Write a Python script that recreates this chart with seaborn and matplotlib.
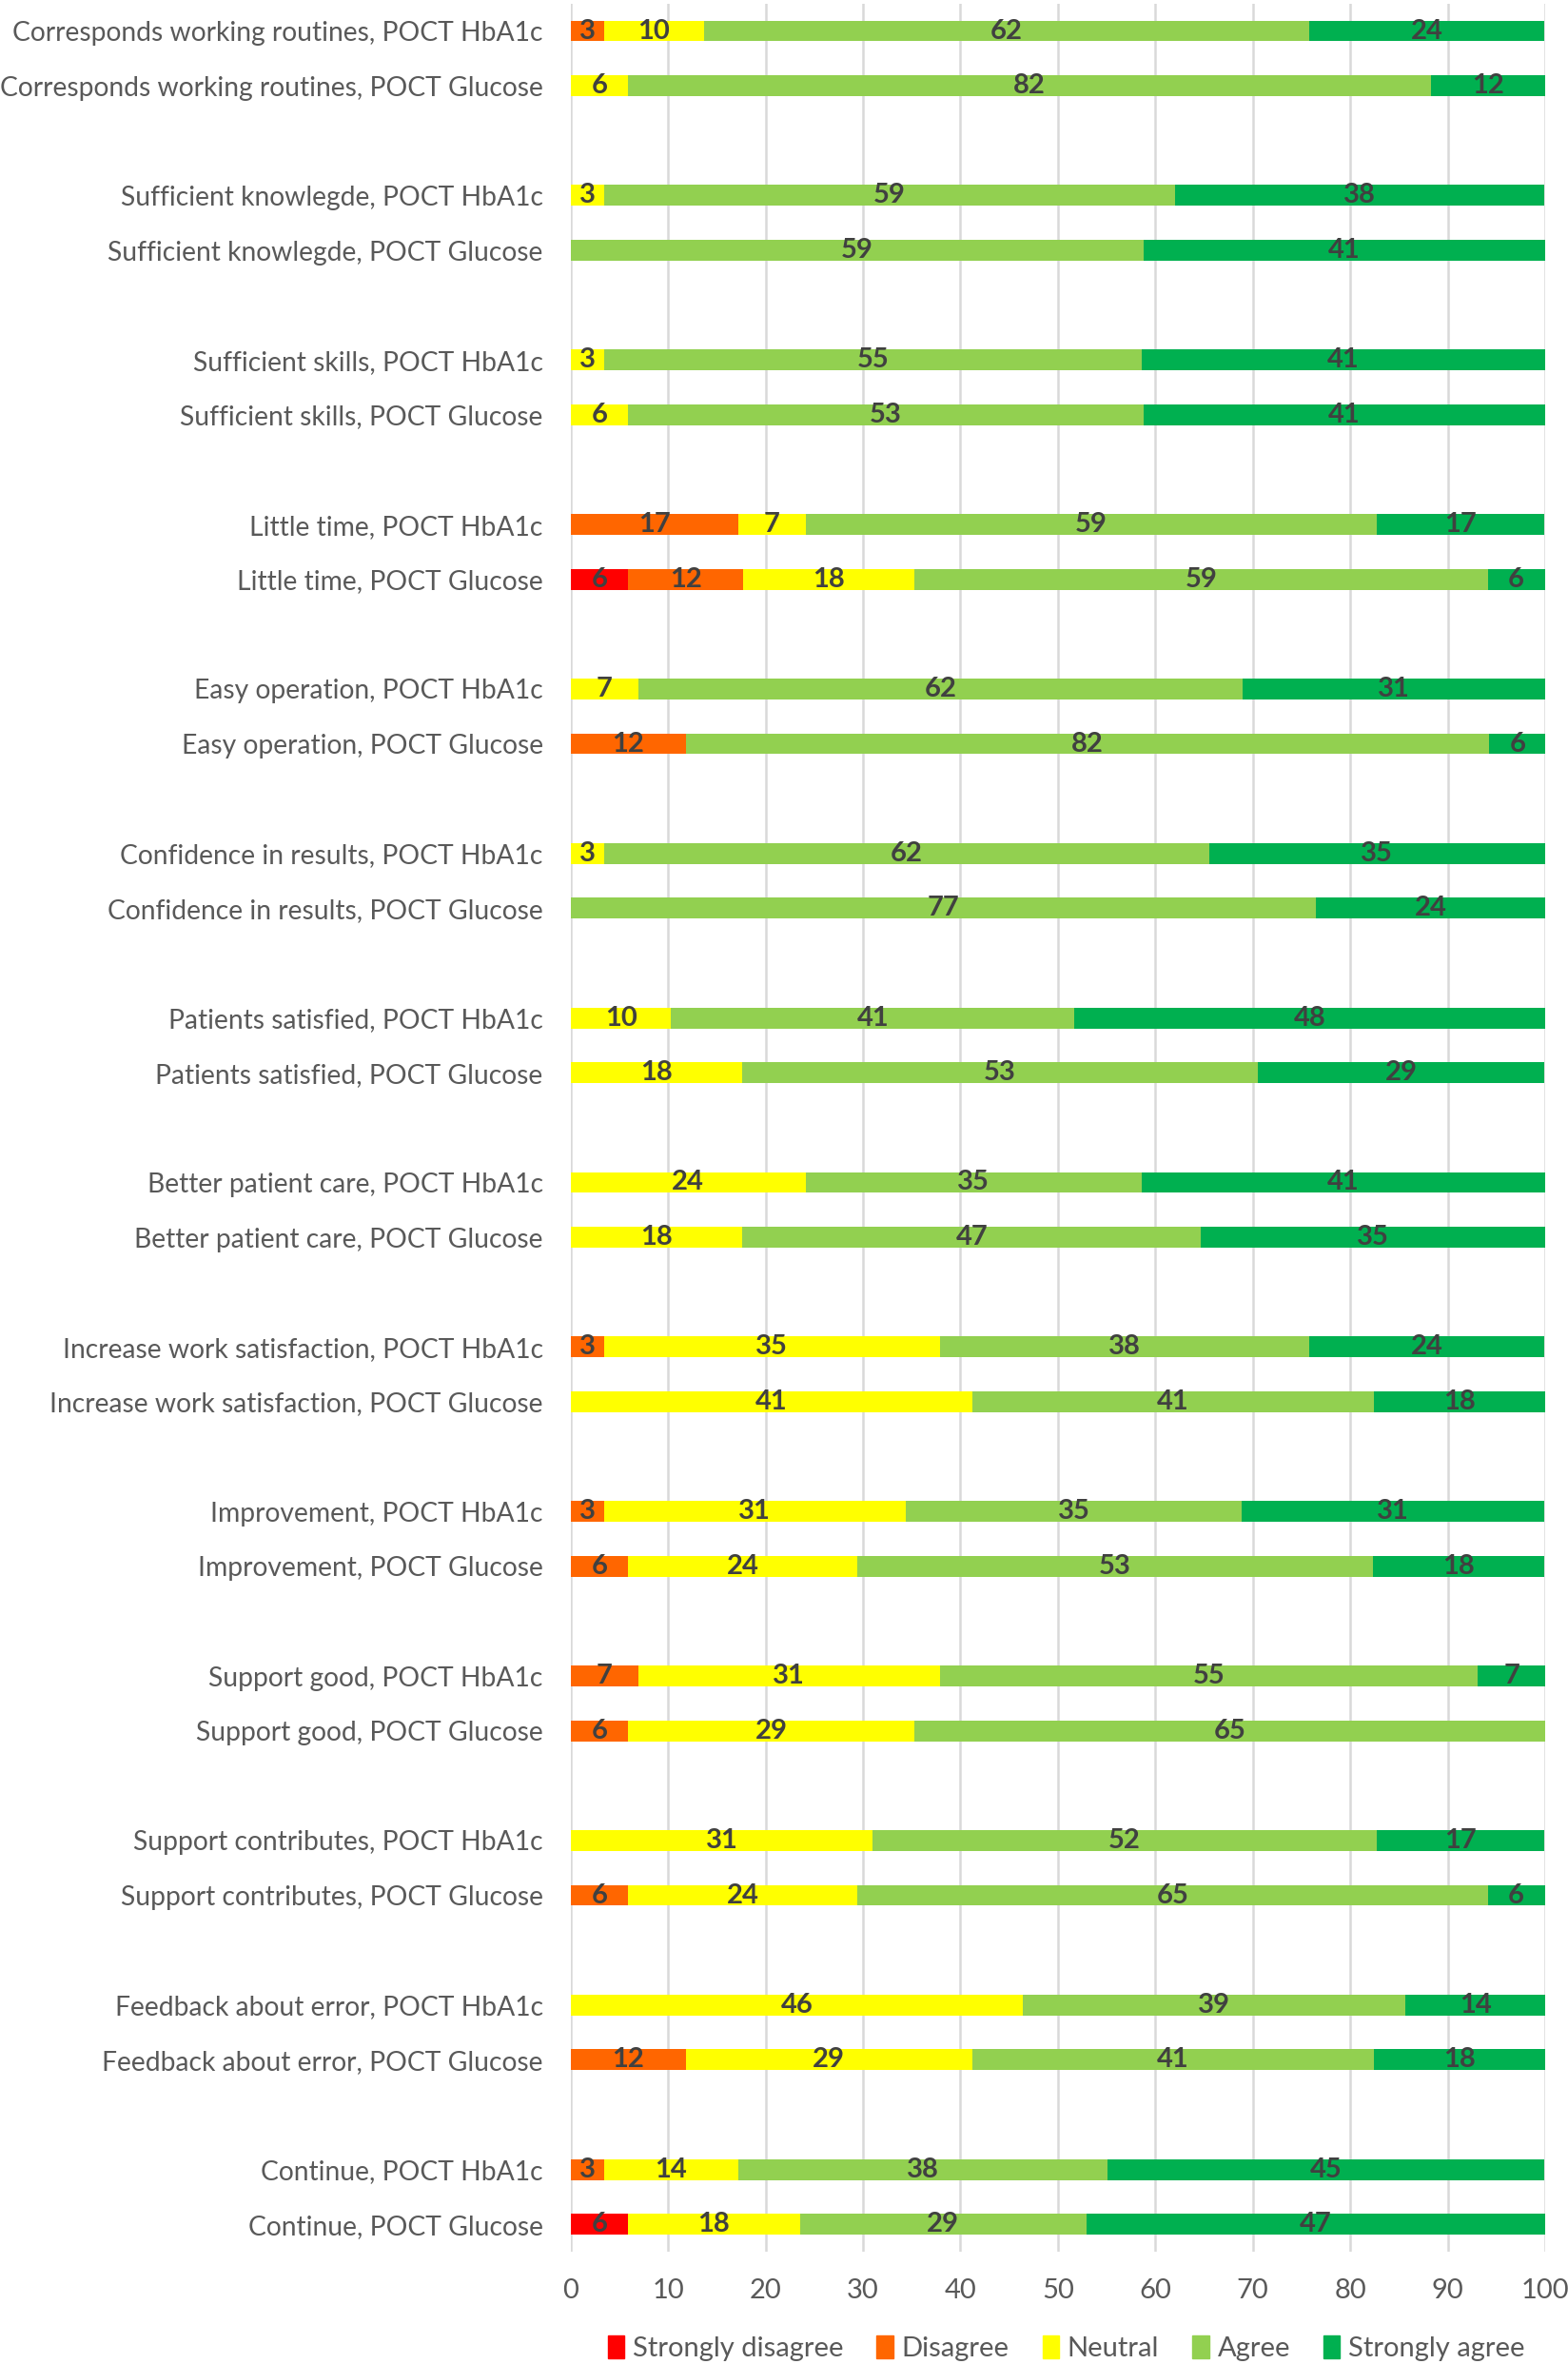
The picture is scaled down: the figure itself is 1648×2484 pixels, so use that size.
import matplotlib
matplotlib.use('Agg')
import matplotlib.pyplot as plt
import seaborn as sns
import numpy as np
import pandas as pd
from matplotlib.patches import Patch

items = ['Corresponds working routines', 'Sufficient knowlegde', 'Sufficient skills',
         'Little time', 'Easy operation', 'Confidence in results', 'Patients satisfied',
         'Better patient care', 'Increase work satisfaction', 'Improvement',
         'Support good', 'Support contributes', 'Feedback about error', 'Continue']
tests = ['POCT HbA1c', 'POCT Glucose']
responses = ['Strongly disagree', 'Disagree', 'Neutral', 'Agree', 'Strongly agree']
colors = ['#FF0000', '#FF6600', '#FFFF00', '#92D050', '#00B050']

# percentages, rows in order item x (HbA1c, Glucose)
strongly_disagree = [0, 0, 0, 0, 0, 0, 0, 5.9, 0, 0, 0, 0, 0, 0,
                     0, 0, 0, 0, 0, 0, 0, 0, 0, 0, 0, 0, 0, 5.9]
disagree = [3.4, 0, 0, 0, 0, 0, 17.2, 11.8, 0, 11.8, 0, 0, 0, 0,
            0, 0, 3.4, 0, 3.4, 5.9, 6.9, 5.9, 0, 5.9, 0, 11.8, 3.4, 0]
neutral = [10.3, 5.9, 3.4, 0, 3.4, 5.9, 6.9, 17.6, 6.9, 0, 3.4, 0, 10.3, 17.6,
           24.1, 17.6, 34.5, 41.2, 31.0, 23.5, 31.0, 29.4, 31.0, 23.5, 46.4, 29.4, 13.8, 17.6]
agree = [62.1, 82.4, 58.6, 58.8, 55.2, 52.9, 58.6, 58.8, 62.1, 82.4, 62.1, 76.5, 41.4, 52.9,
         34.5, 47.1, 37.9, 41.2, 34.5, 52.9, 55.2, 64.7, 51.7, 64.7, 39.3, 41.2, 37.9, 29.4]
strongly_agree = [24.1, 11.8, 37.9, 41.2, 41.4, 41.2, 17.2, 5.9, 31.0, 5.9, 34.5, 23.5, 48.3, 29.4,
                  41.4, 35.3, 24.1, 17.6, 31.0, 17.6, 6.9, 0, 17.2, 5.9, 14.3, 17.6, 44.8, 47.1]

rows = [f'{it}, {t}' for it in items for t in tests]
vals = np.array([strongly_disagree, disagree, neutral, agree, strongly_agree])
cum = np.cumsum(vals, axis=0)

order = []
for i, it in enumerate(items):
    order += [f'{it}, {t}' for t in tests]
    if i < len(items) - 1:
        order.append(' ' * (i + 1))

plt.rcParams['font.family'] = ['Lato', 'DejaVu Sans']
fig, ax = plt.subplots(figsize=(16.48, 24.84), dpi=100)
fig.subplots_adjust(left=0.364, right=0.9854, top=0.9985, bottom=0.0475)

# stacked look: draw cumulative bars from the outermost layer inwards
for k in range(len(responses) - 1, -1, -1):
    df = pd.DataFrame({'row': rows, 'cum': cum[k]})
    sns.barplot(data=df, x='cum', y='row', order=order, orient='h', color=colors[k],
                saturation=1, width=0.38, errorbar=None, ax=ax, zorder=2)

for k in range(len(responses)):
    for r, name in enumerate(rows):
        v = vals[k][r]
        if v <= 0:
            continue
        ax.text(cum[k][r] - v / 2, order.index(name), f'{int(np.floor(v + 0.5))}',
                ha='center', va='center', fontsize=21, fontweight='bold', color='#404040', zorder=3)

ax.set_xlim(0, 100)
ax.set_xticks(np.arange(0, 101, 10))
ax.set_xlabel('')
ax.set_ylabel('')
ax.grid(axis='x', color='#D9D9D9', lw=1.8, zorder=0)
ax.set_axisbelow(True)
for s in ax.spines.values():
    s.set_visible(False)
ax.tick_params(axis='y', length=0, pad=21, labelsize=20.3, labelcolor='#595959')
ax.tick_params(axis='x', length=0, pad=20, labelsize=21, labelcolor='#595959')

handles = [Patch(color=c, label=l) for c, l in zip(colors, responses)]
fig.legend(handles=handles, loc='center', bbox_to_anchor=(0.68, 0.0066), ncol=5,
           frameon=False, fontsize=21, labelcolor='#595959', handlelength=0.6,
           handleheight=0.9, handletextpad=0.3, columnspacing=1.2)

plt.savefig('out.png')
plt.close()
